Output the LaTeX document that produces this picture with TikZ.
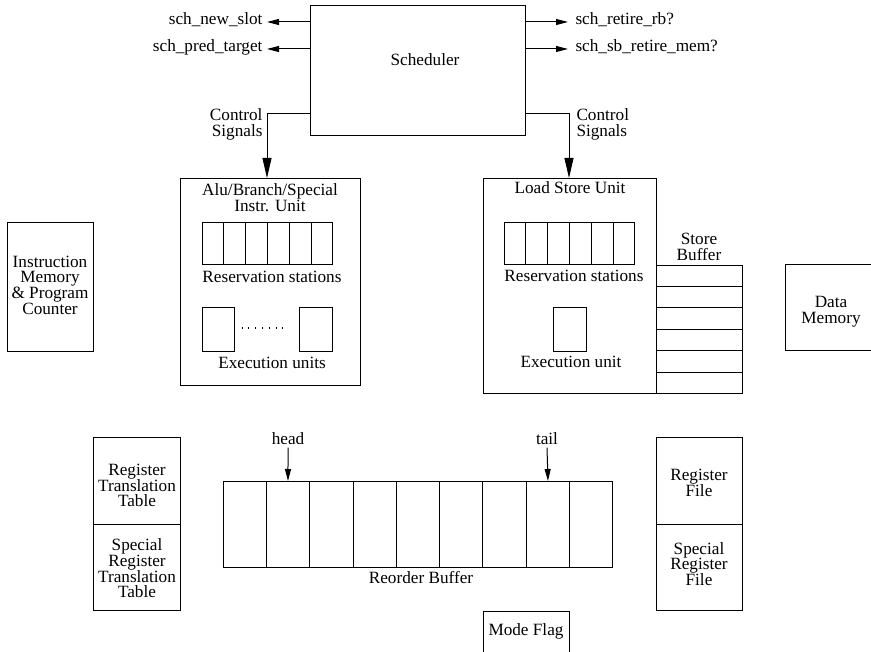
\documentclass[tikz,border=0pt]{standalone}
\usepackage{fontspec}
\setmainfont{Liberation Serif}
\usetikzlibrary{arrows.meta,calc}
\begin{document}
\begin{tikzpicture}[x=1pt,y=-1pt,line width=1pt,
  box/.style={draw,rectangle,inner sep=0pt,anchor=north west},
  txt/.style={inner sep=0pt,align=center,font=\fontsize{17.2}{15.7}\selectfont},
  sarr/.style={-{Triangle[length=12pt,width=6pt]}},
  barr/.style={-{Triangle[length=20pt,width=9pt]}}]
\useasboundingbox (0,0) rectangle (871,652);
\clip (0,0) rectangle (871,652);

% Scheduler
\node[box,minimum width=215pt,minimum height=130pt] (sched) at (310,5) {};
\node[txt] (schedl) at (425,60) {Scheduler};

% signal labels
\node[txt,anchor=mid east] (nsl) at (263,22) {sch\_new\_slot};
\node[txt,anchor=mid east] (spt) at (263,49) {sch\_pred\_target};
\node[txt,anchor=mid west] (srb) at (575,22) {sch\_retire\_rb?};
\node[txt,anchor=mid west] (ssb) at (575,49) {sch\_sb\_retire\_mem?};
\draw[sarr] (sched.west |- nsl.mid) -- ([xshift=4pt]nsl.mid east);
\draw[sarr] (sched.west |- spt.mid) -- ([xshift=4pt]spt.mid east);
\draw[sarr] (sched.east |- srb.mid) -- ([xshift=-7pt]srb.mid west);
\draw[sarr] (sched.east |- ssb.mid) -- ([xshift=-7pt]ssb.mid west);

% ALU unit
\node[box,minimum width=180pt,minimum height=207pt] (alu) at (180,178) {};
\node[txt] (alut) at (270,197.5) {Alu/Branch/Special\\Instr. Unit};
\node[box,minimum width=130pt,minimum height=42pt] (rsA) at (202,222) {};
\foreach \i in {1,...,5}
  \draw ($(rsA.north west)!\i/6!(rsA.north east)$) -- ($(rsA.south west)!\i/6!(rsA.south east)$);
\node[txt] (rsAl) at (272,277) {Reservation stations};
\node[box,minimum width=32pt,minimum height=44pt] (eu1) at (202,307) {};
\node[box,minimum width=33pt,minimum height=44pt] (eu2) at (299,307) {};
\draw[line width=1.1pt,dash pattern=on 1.1pt off 5.7pt] (241.5,328) -- (285,328);
\node[txt] (eul) at (272,363) {Execution units};

% Load store unit
\node[box,minimum width=173pt,minimum height=215pt] (lsu) at (483,178) {};
\node[txt] (lsut) at (570,188) {Load Store Unit};
\node[box,minimum width=130pt,minimum height=42pt] (rsB) at (504,222) {};
\foreach \i in {1,...,5}
  \draw ($(rsB.north west)!\i/6!(rsB.north east)$) -- ($(rsB.south west)!\i/6!(rsB.south east)$);
\node[txt] (rsBl) at (574,276) {Reservation stations};
\node[box,minimum width=33pt,minimum height=44pt] (eu3) at (553,307) {};
\node[txt] (eu3l) at (571,362) {Execution unit};

% Store buffer
\node[box,minimum width=86pt,minimum height=128pt] (sb) at (656,265) {};
\foreach \i in {1,...,5}
  \draw ($(sb.north west)!\i/6!(sb.south west)$) -- ($(sb.north east)!\i/6!(sb.south east)$);
\node[txt] (sbl) at (699,247) {Store\\Buffer};

% control signals
\draw[barr] ([yshift=22pt]sched.south west) -| ([xshift=87pt]alu.north west);
\draw[barr] ([yshift=22pt]sched.south east) -| ([xshift=86pt]lsu.north west);
\node[txt,align=right,anchor=east] (csl) at (263,124.5) {Control\\Signals};
\node[txt,align=left,anchor=west] (csr) at (576,124.5) {Control\\Signals};

% Instruction memory
\node[box,minimum width=86pt,minimum height=129pt] (imem) at (7,222) {};
\node[txt] (imeml) at (50,285) {Instruction\\Memory\\\& Program\\Counter};

% Data memory
\node[box,minimum width=100pt,minimum height=86pt] (dmem) at (785,264) {};
\node[txt] (dmeml) at (831,312) {Data\\Memory};

% Register translation tables
\node[box,minimum width=87pt,minimum height=87pt] (rtt) at (93,437) {};
\node[box,minimum width=87pt,minimum height=86pt] (srtt) at (93,524) {};
\node[txt] (rttl) at (137,485.5) {Register\\Translation\\Table};
\node[txt] (srttl) at (137,568.5) {Special\\Register\\Translation\\Table};

% Reorder buffer
\node[box,minimum width=389pt,minimum height=86pt] (rob) at (223,481) {};
\foreach \i in {1,...,8}
  \draw ($(rob.north west)!\i/9!(rob.north east)$) -- ($(rob.south west)!\i/9!(rob.south east)$);
\node[txt] (robl) at (421,578) {Reorder Buffer};
\node[txt,inner sep=2pt] (head) at (288,439) {head};
\node[txt,inner sep=2pt] (tail) at (547,439) {tail};
\draw[sarr] (head.south) -- ($(rob.north west)!1.5/9!(rob.north east)$);
\draw[sarr] (tail.south) -- ($(rob.north west)!7.5/9!(rob.north east)$);

% Register files
\node[box,minimum width=86pt,minimum height=87pt] (rf) at (656,437) {};
\node[box,minimum width=86pt,minimum height=86pt] (srf) at (656,524) {};
\node[txt] (rfl) at (699,483) {Register\\File};
\node[txt] (srfl) at (699,564) {Special\\Register\\File};

% Mode flag
\node[box,minimum width=86pt,minimum height=60pt] (mf) at (483,611) {};
\node[txt] (mfl) at (526,631) {Mode Flag};
\end{tikzpicture}
\end{document}
